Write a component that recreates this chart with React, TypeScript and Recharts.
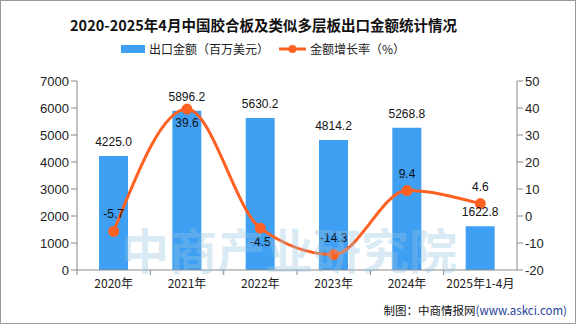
import React from "react";
import {
  ComposedChart,
  Bar,
  Line,
  XAxis,
  YAxis,
  LabelList,
} from "recharts";

const categories = ["2020年", "2021年", "2022年", "2023年", "2024年", "2025年1-4月"];
const exportValues = [4225.0, 5896.2, 5630.2, 4814.2, 5268.8, 1622.8];
const growthRates = [-5.7, 39.6, -4.5, -14.3, 9.4, 4.6];
// where each growth label sits relative to its dot
const growthLabelSide = ["top", "bottom", "bottom", "top", "top", "top"];
const leftTicks = [0, 1000, 2000, 3000, 4000, 5000, 6000, 7000];
const rightTicks = [-20, -10, 0, 10, 20, 30, 40, 50];

const data = categories.map((name, i) => ({
  name,
  value: exportValues[i],
  rate: growthRates[i],
  side: growthLabelSide[i],
}));

const W = 576;
const H = 324;
const X_AXIS_H = 30;
const AXIS_W = 50;
const MARGIN = { top: 81, right: 9, bottom: 54 - X_AXIS_H, left: 27 };
const PLOT_W = W - MARGIN.left - MARGIN.right - AXIS_W * 2;
const HALF_BAND = PLOT_W / categories.length / 2;

const BLUE = "#3f9ff2";
const ORANGE = "#ff6122";
const AXIS = "#8a8a8a";
const FONT = "'Liberation Sans', Arial, sans-serif";
const CJK = "'Noto Sans CJK SC', sans-serif";

const XTick = ({ x, y, payload }: any) => (
  <g>
    <line x1={x - HALF_BAND} y1={y} x2={x - HALF_BAND} y2={y + 5} stroke={AXIS} />
    <text
      x={x}
      y={y + 18}
      textAnchor="middle"
      fontSize={12}
      fill="#222"
      fontFamily={CJK}
    >
      {payload.value}
    </text>
  </g>
);

const RateLabel = ({ x, y, value, index }: any) => {
  const below = data[index].side === "bottom";
  return (
    <text
      x={x}
      y={below ? y + 18 : y - 13}
      textAnchor="middle"
      fontSize={12}
      fill="#111"
      fontFamily={FONT}
    >
      {value}
    </text>
  );
};

export default function App() {
  return (
    <div
      style={{
        position: "absolute",
        left: 0,
        top: 0,
        width: W,
        height: H,
        border: "1px solid #999",
        boxSizing: "border-box",
        background: "#fff",
        overflow: "hidden",
      }}
    >
      <div
        style={{
          position: "absolute",
          top: 13,
          left: 0,
          width: W - 51,
          textAlign: "center",
          fontFamily: CJK,
          fontWeight: 700,
          fontSize: 14.5,
          color: "#111",
        }}
      >
        2020-2025年4月中国胶合板及类似多层板出口金额统计情况
      </div>
      <div
        style={{
          position: "absolute",
          top: 39,
          left: 120,
          display: "flex",
          alignItems: "center",
          fontFamily: CJK,
          fontSize: 12,
          color: "#222",
        }}
      >
        <span style={{ width: 24, height: 8, background: BLUE, display: "inline-block", marginRight: 4 }} />
        <span style={{ marginRight: 10 }}>出口金额（百万美元）</span>
        <svg width={27} height={10} style={{ marginRight: 4 }}>
          <line x1={0} y1={5} x2={27} y2={5} stroke={ORANGE} strokeWidth={3} />
          <circle cx={13.5} cy={5} r={4} fill={ORANGE} />
        </svg>
        <span>金额增长率（%）</span>
      </div>
      <div
        style={{
          position: "absolute",
          left: 120,
          top: 212,
          fontFamily: CJK,
          fontWeight: 700,
          fontSize: 48,
          whiteSpace: "nowrap",
          color: "rgba(150,195,225,0.35)",
          pointerEvents: "none",
          zIndex: 2,
        }}
      >
        中商产业研究院
      </div>
      <div style={{ position: "absolute", left: -1, top: -1 }}>
        <ComposedChart width={W} height={H} data={data} margin={MARGIN}>
          <XAxis
            dataKey="name"
            height={X_AXIS_H}
            axisLine={{ stroke: AXIS }}
            tickLine={false}
            tickSize={0}
            tickMargin={0}
            tick={<XTick />}
            interval={0}
          />
          <YAxis
            yAxisId="left"
            width={AXIS_W}
            domain={[0, 7000]}
            ticks={leftTicks}
            axisLine={{ stroke: AXIS }}
            tickLine={{ stroke: AXIS }}
            tick={{ fontSize: 13, fill: "#222", fontFamily: FONT }}
          />
          <YAxis
            yAxisId="right"
            orientation="right"
            width={AXIS_W}
            domain={[-20, 50]}
            ticks={rightTicks}
            axisLine={{ stroke: AXIS }}
            tickLine={{ stroke: AXIS }}
            tick={{ fontSize: 13, fill: "#222", fontFamily: FONT }}
          />
          <Bar yAxisId="left" dataKey="value" fill={BLUE} barSize={29} isAnimationActive={false}>
            <LabelList
              dataKey="value"
              position="top"
              offset={10}
              formatter={(v: any) => Number(v).toFixed(1)}
              style={{ fontSize: 12, fill: "#111", fontFamily: FONT }}
            />
          </Bar>
          <Line
            yAxisId="right"
            type="monotone"
            dataKey="rate"
            stroke={ORANGE}
            strokeWidth={3}
            dot={{ r: 4, fill: ORANGE, stroke: ORANGE }}
            activeDot={false}
            isAnimationActive={false}
          >
            <LabelList dataKey="rate" content={<RateLabel />} />
          </Line>
        </ComposedChart>
      </div>
      <div
        style={{
          position: "absolute",
          right: 8,
          bottom: 5,
          fontFamily: CJK,
          fontSize: 11.5,
          color: "#111",
        }}
      >
        制图：中商情报网<span style={{ color: "#1f3f9a" }}>(www.askci.com)</span>
      </div>
    </div>
  );
}
